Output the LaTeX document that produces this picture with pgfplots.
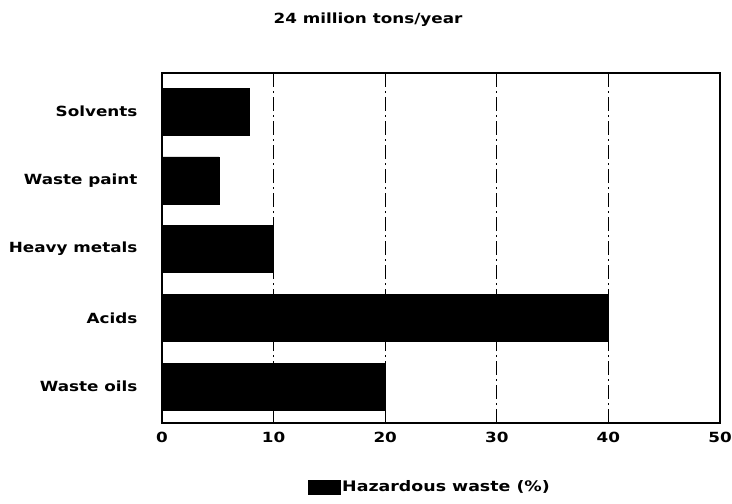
\documentclass[border=0pt]{standalone}
\usepackage{pgfplots}
\pgfplotsset{compat=1.18}
\usepackage{fontspec}
\setmainfont[FakeStretch=1.2]{DejaVu Sans}
\begin{document}
\begin{tikzpicture}
\useasboundingbox (-162pt,-81pt) rectangle (570pt,423pt);
\begin{axis}[
  at={(0pt,0pt)}, anchor=south west,
  scale only axis, width=558pt, height=350pt,
  xbar, bar width=47pt,
  xmin=0, xmax=50, ymin=-0.53, ymax=4.56,
  ytick={0,...,4},
  yticklabels={Waste oils,Acids,Heavy metals,Waste paint,Solvents},
  xtick={0,10,...,50},
  axis line style={line width=2pt},
  ytick style={draw=none},
  xtick style={line width=1pt, black},
  major tick length=6pt,
  xmajorgrids,
  grid style={black, line width=0.9pt, dash pattern=on 14pt off 4pt on 2pt off 4pt},
  /pgf/number format/assume math mode=true,
  tick label style={font=\bfseries\fontsize{14}{17}\selectfont},
  yticklabel style={xshift=-15pt},
  xticklabel style={yshift=-6pt},
  legend style={at={(0.48,-0.183)}, anchor=center, draw=none,
    font=\bfseries\fontsize{14.5}{17}\selectfont},
  legend image code/.code={\fill[black] (0pt,-7pt) rectangle (32pt,7pt);},
]
\addplot[fill=black, draw=black] coordinates {(20,0) (40,1) (10,2) (5.1,3) (7.8,4)};
\addlegendentry{Hazardous waste (\%)}
\end{axis}
\node[font=\bfseries\fontsize{14}{17}\selectfont] at (206pt,403pt) {24 million tons/year};
\end{tikzpicture}
\end{document}
